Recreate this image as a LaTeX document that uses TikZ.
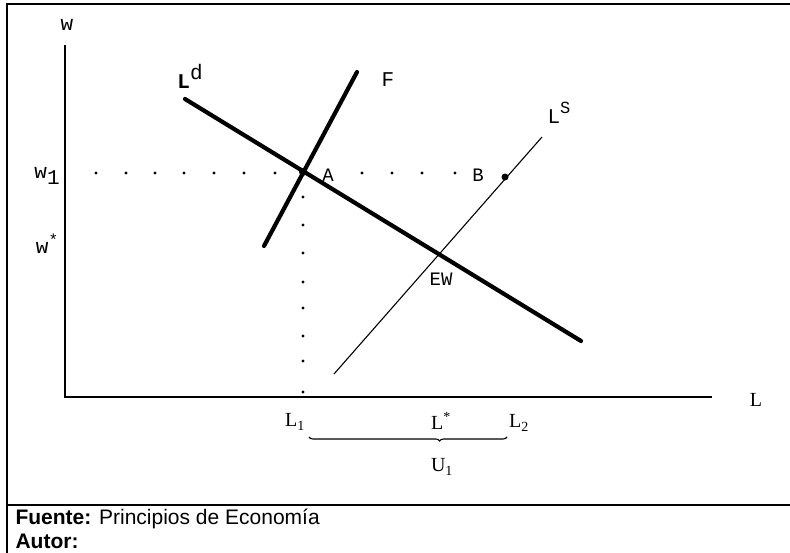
\documentclass[tikz,border=0pt]{standalone}
\usepackage{fontspec}
\setmainfont{Liberation Serif}
\setsansfont{Liberation Sans}
\setmonofont{Liberation Mono}
\usetikzlibrary{decorations.pathreplacing}
\tikzset{
  thickcurve/.style={line width=4.2pt,line cap=round},
  thincurve/.style={line width=1.1pt},
  axisline/.style={line width=1.4pt},
  framerule/.style={line width=2.2pt},
  dotmark/.style={circle,fill,inner sep=0pt,minimum size=3.2pt},
  bigdot/.style={circle,fill,inner sep=0pt,minimum size=8pt},
  monolbl/.style={font=\fontsize{21}{23}\selectfont\ttfamily},
  ptlbl/.style={font=\fontsize{19}{21}\selectfont\ttfamily},
  seriflbl/.style={font=\fontsize{20}{22}\selectfont},
  footlbl/.style={anchor=west,font=\sffamily\fontsize{21}{23}\selectfont},
}

\begin{document}
\begin{tikzpicture}[x=1pt,y=-1pt]
\path[use as bounding box] (0,0) rectangle (790,553);
% frame
\draw[framerule] (7,553) -- (7,4) -- (790,4);
\draw[framerule] (7,505) -- (790,505);
% axes
\coordinate (wtop) at (65,45);
\coordinate (origin) at (65,397);
\coordinate (Lend) at (712,397);
\draw[axisline] (wtop) -- (origin) -- (Lend);
\node[monolbl] (wlab) at (67,25) {w};
\node[seriflbl] (Llab) at (756,400) {L};
\node[monolbl] (w1lab) at (47,176) {w\raisebox{-6pt}{1}};
\node[monolbl] (wstarlab) at (47,244) {w\raisebox{8pt}{\fontsize{16}{18}\selectfont *}};
% curves
\coordinate (ldtop) at (185,99);
\coordinate (ldbot) at (581,341);
\coordinate (ftop) at (357,72);
\coordinate (fbot) at (264,246);
\coordinate (lstop) at (542,137);
\coordinate (lsbot) at (334,374);
\draw[thickcurve] (ldtop) -- (ldbot);
\draw[thickcurve] (fbot) -- (ftop);
\draw[thincurve] (lsbot) -- (lstop);
\node[monolbl] (ldlab) at (190,76) {\textbf{L}\raisebox{9pt}{d}};
\node[monolbl] (flab) at (388,80) {F};
\node[monolbl] (lslab) at (559,113) {L\raisebox{10pt}{\fontsize{17}{19}\selectfont S}};
% points
\node[bigdot] (ptA) at (303,172) {};
\node[bigdot,minimum size=7pt] (ptB) at (505,177) {};
\node[ptlbl] (alab) at (328,175) {A};
\node[ptlbl] (blab) at (478,175) {B};
\node[ptlbl] (ewlab) at (441,279) {EW};
% dotted guides
\foreach \x in {96,126,155,184,214,244,275,362,392,422,455}
  \node[dotmark] (h\x) at (\x,173) {};
\foreach \y in {197,225,253,282,308,336,361,392}
  \node[dotmark] (v\y) at (303,\y) {};
% labels under the L axis
\node[seriflbl] (l1lab) at (295,422) {L\textsubscript{1}};
\node[seriflbl] (lstarlab) at (441,421) {L\textsuperscript{*}};
\node[seriflbl] (l2lab) at (519,423) {L\textsubscript{2}};
\coordinate (brl) at (309,437);
\coordinate (brr) at (507,437);
\draw[line width=1.1pt,decorate,decoration={brace,amplitude=4pt,aspect=0.66,mirror}] (brl) -- (brr);
\node[seriflbl] (u1lab) at (442,467) {U\textsubscript{1}};
% source
\node[footlbl] (srclab) at (12,519) {\textbf{Fuente:} Principios de Economía};
\node[footlbl] (autlab) at (12,541) {\textbf{Autor:}};
\end{tikzpicture}
\end{document}
